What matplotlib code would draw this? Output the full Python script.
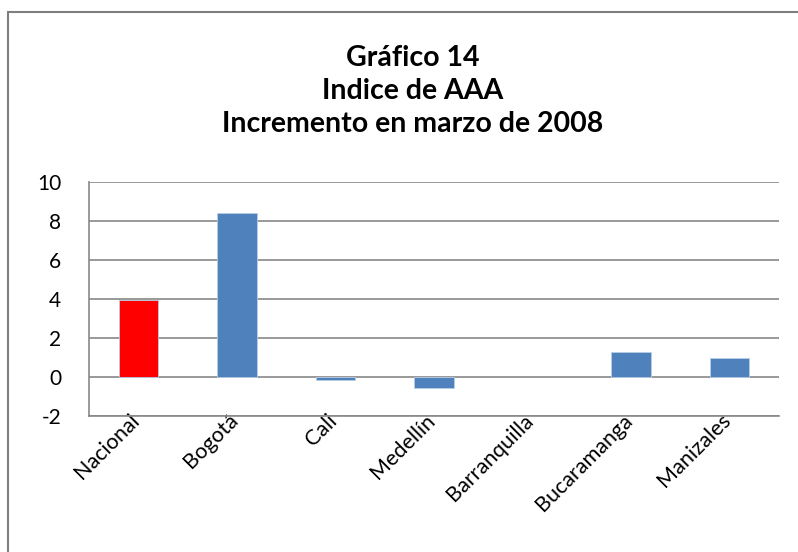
import matplotlib
matplotlib.use("Agg")
import matplotlib.pyplot as plt
from matplotlib.patches import Rectangle
from matplotlib.transforms import ScaledTranslation

categories = ["Nacional", "Bogotá", "Cali", "Medellín", "Barranquilla", "Bucaramanga", "Manizales"]
values = [3.95, 8.43, -0.15, -0.55, 0.0, 1.27, 0.96]
colors = ["#FF0000", "#4F81BD", "#4F81BD", "#4F81BD", "#4F81BD", "#4F81BD", "#4F81BD"]
yticks = [-2, 0, 2, 4, 6, 8, 10]
title = "Gráfico 14\nIndice de AAA\nIncremento en marzo de 2008"

plt.rcParams['font.family'] = ['Lato', 'DejaVu Sans']

fig = plt.figure(figsize=(7.98, 5.52), dpi=100)
ax = fig.add_axes([89/798, 1-416/552, (779-89)/798, (416-182)/552])

x = list(range(len(categories)))
edges = ["none" if v == 0 else "#B9CDE5" for v in values]
ax.bar(x, values, width=0.4, color=colors, edgecolor=edges, linewidth=0.6, zorder=3)

ax.set_ylim(-2, 10)
ax.set_xlim(-0.5, len(categories)-0.5)
ax.set_yticks(yticks)
ax.set_yticklabels([str(t) for t in yticks], fontsize=15)
ax.yaxis.grid(True, color="#878787", linewidth=1.2, zorder=0)
ax.set_axisbelow(True)
ax.tick_params(axis='y', length=0, pad=20)
ax.tick_params(axis='x', length=0, pad=1)
ax.set_xticks(x)
labels = ax.set_xticklabels(categories, rotation=45, ha='right', va='center',
                            rotation_mode='anchor', fontsize=15.5)
off = ScaledTranslation(-2/100, 0/100, fig.dpi_scale_trans)
for lb in labels:
    lb.set_transform(lb.get_transform() + off)

for s in ['top', 'right']:
    ax.spines[s].set_visible(False)
ax.spines['left'].set_color("#878787")
ax.spines['left'].set_linewidth(1.2)
ax.spines['bottom'].set_color("#878787")
ax.spines['bottom'].set_linewidth(1.2)

fig.text(413/798, 1-91/552, title, ha='center', va='center', fontsize=20.5,
         fontweight='bold', linespacing=1.32)

fig.patches.append(Rectangle((8/798, -0.1), 1.1, 1-12/552+0.1, transform=fig.transFigure,
                             fill=False, edgecolor="#7F7F7F", linewidth=1.5))

fig.savefig("out.png", dpi=100)
